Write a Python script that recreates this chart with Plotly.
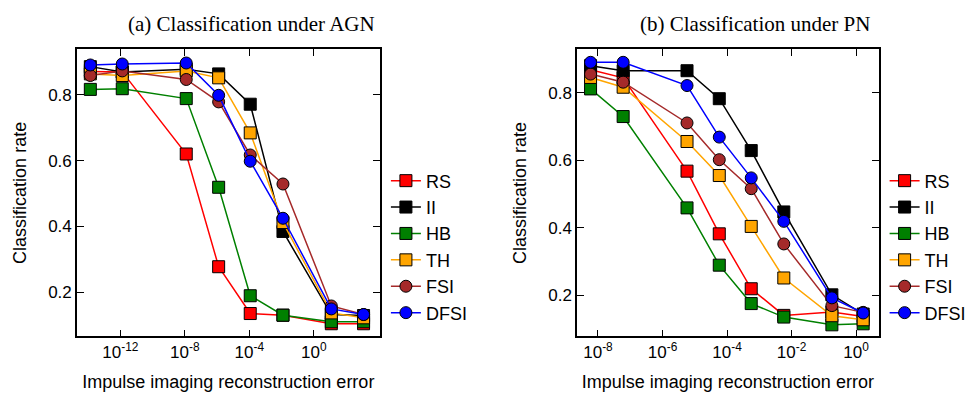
import plotly.graph_objects as go

# ---------------- data ----------------
series_names = ["RS", "II", "HB", "TH", "FSI", "DFSI"]
series_colors = ["#ff0000", "#000000", "#008000", "#ffa500", "#a52a2a", "#0000ff"]
series_symbols = ["square", "square", "square", "square", "circle", "circle"]

# (a) AGN: log10 of reconstruction error
agn_log_err = [-13.86, -11.88, -7.91, -5.90, -3.94, -1.91, 1.09, 3.09]
agn_RS = [0.870, 0.869, 0.620, 0.278, 0.136, 0.131, 0.105, 0.105]
agn_II = [0.885, 0.869, 0.877, 0.863, 0.771, 0.385, 0.133, 0.130]
agn_HB = [0.816, 0.818, 0.788, 0.519, 0.190, 0.131, 0.111, 0.111]
agn_TH = [0.863, 0.858, 0.872, 0.851, 0.684, 0.412, 0.138, 0.123]
agn_FSI = [0.858, 0.872, 0.846, 0.778, 0.617, 0.529, 0.159, 0.133]
agn_DFSI = [0.890, 0.893, 0.896, 0.798, 0.598, 0.425, 0.150, 0.133]

# (b) PN
pn_log_err = [-8.23, -7.22, -5.24, -4.24, -3.25, -2.24, -0.75, 0.22]
pn_RS = [0.869, 0.845, 0.568, 0.382, 0.219, 0.140, 0.150, 0.137]
pn_II = [0.881, 0.866, 0.866, 0.783, 0.629, 0.447, 0.201, 0.144]
pn_HB = [0.812, 0.730, 0.459, 0.289, 0.175, 0.135, 0.112, 0.115]
pn_TH = [0.846, 0.817, 0.656, 0.555, 0.404, 0.251, 0.139, 0.127]
pn_FSI = [0.856, 0.832, 0.711, 0.602, 0.516, 0.352, 0.169, 0.149]
pn_DFSI = [0.891, 0.891, 0.822, 0.669, 0.548, 0.419, 0.192, 0.147]

agn_tick_exp = [-12, -8, -4, 0]
pn_tick_exp = [-8, -6, -4, -2, 0]

agn_values = [agn_RS, agn_II, agn_HB, agn_TH, agn_FSI, agn_DFSI]
pn_values = [pn_RS, pn_II, pn_HB, pn_TH, pn_FSI, pn_DFSI]

titles = ["(a) Classification under AGN", "(b) Classification under PN"]
x_title = "Impulse imaging reconstruction error"
y_title = "Classification rate"

# ---------------- figure ----------------
fig = go.Figure()

def add_panel(log_err, values, xaxis, yaxis, legend, showlegend=True):
    xs = [10 ** e for e in log_err]
    for name, col, sym, ys in zip(series_names, series_colors, series_symbols, values):
        fig.add_trace(go.Scatter(
            x=xs, y=ys, mode="lines+markers", name=name,
            line=dict(color=col, width=1.5),
            marker=dict(symbol=sym, size=12, color=col,
                        line=dict(color="#000000", width=1)),
            xaxis=xaxis, yaxis=yaxis, legend=legend,
            legendgroup=legend + name, showlegend=showlegend,
        ))

add_panel(agn_log_err, agn_values, "x", "y", "legend")
add_panel(pn_log_err, pn_values, "x2", "y2", "legend2")

sans = "Liberation Sans, Arial, sans-serif"
tick_font = dict(family=sans, size=17, color="#000000")
label_font = dict(family=sans, size=18, color="#000000")
common_axis = dict(
    showline=True, linecolor="#000000", linewidth=1.5, mirror="ticks",
    ticks="inside", ticklen=7, tickwidth=1, tickcolor="#000000",
    showgrid=False, zeroline=False, tickfont=tick_font,
)

def tick_text(exps):
    return ["10<sup>%d</sup>" % e for e in exps]

legend_common = dict(yanchor="top", xanchor="left", font=dict(family=sans, size=18),
                     tracegroupgap=0, bgcolor="rgba(0,0,0,0)", itemwidth=30)

fig.update_layout(
    width=974, height=394,
    margin=dict(l=0, r=0, t=0, b=0),
    paper_bgcolor="white", plot_bgcolor="white",
    font=dict(family=sans, size=17, color="#000000"),
    xaxis=dict(common_axis, type="log", domain=[0.0708, 0.3816], range=[-14.69, 4.09],
               tickvals=[10 ** e for e in agn_tick_exp], ticktext=tick_text(agn_tick_exp),
               title=dict(text=x_title, font=label_font, standoff=14), anchor="y"),
    yaxis=dict(common_axis, domain=[0.1668, 0.8947], range=[0.067, 0.937],
               tickvals=[0.2, 0.4, 0.6, 0.8], ticktext=["0.2", "0.4", "0.6", "0.8"],
               title=dict(text=y_title, font=label_font, standoff=17), anchor="x"),
    xaxis2=dict(common_axis, type="log", domain=[0.5842, 0.8939], range=[-8.65, 0.70],
                tickvals=[10 ** e for e in pn_tick_exp], ticktext=tick_text(pn_tick_exp),
                title=dict(text=x_title, font=label_font, standoff=14), anchor="y2"),
    yaxis2=dict(common_axis, domain=[0.1668, 0.8947], range=[0.078, 0.929],
                tickvals=[0.2, 0.4, 0.6, 0.8], ticktext=["0.2", "0.4", "0.6", "0.8"],
                title=dict(text=y_title, font=label_font, standoff=17), anchor="x2"),
    legend=dict(legend_common, x=0.388, y=0.608),
    legend2=dict(legend_common, x=0.9, y=0.608),
    showlegend=True,
)

title_font = dict(family="Liberation Serif, Times New Roman, serif", size=21, color="#000000")
fig.add_annotation(text=titles[0], x=0.2505, y=1 - 2 / 394, xref="paper", yref="paper",
                   showarrow=False, font=title_font, xanchor="center", yanchor="top")
fig.add_annotation(text=titles[1], x=0.767, y=1 - 2 / 394, xref="paper", yref="paper",
                   showarrow=False, font=title_font, xanchor="center", yanchor="top")

fig.write_html("out.html")
